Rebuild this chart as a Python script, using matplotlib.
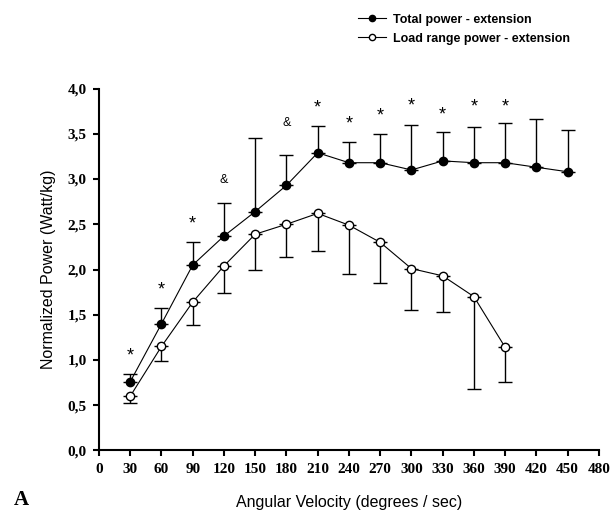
import matplotlib
matplotlib.use('Agg')
import matplotlib.pyplot as plt
from matplotlib import font_manager
from matplotlib.ticker import FuncFormatter

# angular velocity (deg/s)
vel_total = [30, 60, 90, 120, 150, 180, 210, 240, 270, 300, 330, 360, 390, 420, 450]
total = [0.76, 1.40, 2.05, 2.37, 2.64, 2.93, 3.29, 3.18, 3.18, 3.10, 3.20, 3.18, 3.18, 3.13, 3.08]
total_top = [0.85, 1.57, 2.30, 2.74, 3.45, 3.27, 3.59, 3.41, 3.50, 3.60, 3.52, 3.58, 3.62, 3.66, 3.54]

vel_load = [30, 60, 90, 120, 150, 180, 210, 240, 270, 300, 330, 360, 390]
load = [0.60, 1.15, 1.64, 2.04, 2.39, 2.50, 2.62, 2.49, 2.30, 2.01, 1.93, 1.70, 1.14]
load_bottom = [0.52, 0.99, 1.39, 1.74, 1.99, 2.14, 2.20, 1.95, 1.85, 1.55, 1.53, 0.68, 0.76]

# significance marks above the total curve
mark_x = [30, 60, 90, 120, 180, 210, 240, 270, 300, 330, 360, 390]
mark_y = [1.04, 1.77, 2.50, 2.99, 3.62, 3.78, 3.61, 3.70, 3.81, 3.71, 3.80, 3.80]
mark_txt = ['*', '*', '*', '&', '&', '*', '*', '*', '*', '*', '*', '*']

# narrow bold face for tick numbers if there is one
tick_font = 'Liberation Serif'
try:
    font_manager.findfont('Liberation Sans Narrow', fallback_to_default=False)
    tick_font = 'Liberation Sans Narrow'
except ValueError:
    pass

fig = plt.figure(figsize=(6.13, 5.11), dpi=100)
ax = fig.add_axes([0.1615, 0.1184, 0.8155, 0.7084])

up = [t - v for t, v in zip(total_top, total)]
down = [v - b for v, b in zip(load, load_bottom)]

ax.errorbar(vel_total, total, yerr=[[0] * len(up), up], fmt='none',
            ecolor='black', elinewidth=1.0, capsize=5, capthick=1.0)
ax.errorbar(vel_load, load, yerr=[down, [0] * len(down)], fmt='none',
            ecolor='black', elinewidth=1.0, capsize=5, capthick=1.0)
l1, = ax.plot(vel_total, total, color='black', lw=0.8, marker='o', ms=6,
              mfc='black', mec='black', zorder=3)
l2, = ax.plot(vel_load, load, color='black', lw=0.8, marker='o', ms=6,
              mfc='white', mec='black', mew=1.0, zorder=3)

for x, y, t in zip(mark_x, mark_y, mark_txt):
    ax.text(x, y, t, ha='center', va='center',
            fontsize=13 if t == '*' else 9, family='Liberation Sans')

ax.set_xlim(0, 480)
ax.set_ylim(0, 4.0)
ax.set_xticks(range(0, 481, 30))
ax.set_yticks([0, 0.5, 1.0, 1.5, 2.0, 2.5, 3.0, 3.5, 4.0])
ax.yaxis.set_major_formatter(FuncFormatter(lambda v, p: f'{v:.1f}'.replace('.', ',')))
ax.spines['top'].set_visible(False)
ax.spines['right'].set_visible(False)
ax.spines['left'].set_linewidth(1.5)
ax.spines['bottom'].set_linewidth(1.5)
ax.tick_params(direction='out', length=4, width=1.5, pad=5)
for lab in ax.get_xticklabels() + ax.get_yticklabels():
    lab.set_family(tick_font)
    lab.set_fontweight('bold')
    lab.set_fontsize(11)

ax.set_xlabel('Angular Velocity (degrees / sec)', family='Liberation Sans',
              fontsize=11.5, labelpad=14)
ax.set_ylabel('Normalized Power (Watt/kg)', family='Liberation Sans',
              fontsize=11.5, labelpad=8)

fig.legend([l1, l2], ['Total power - extension', 'Load range power - extension'],
           loc='upper left', bbox_to_anchor=(0.565, 0.995), frameon=False,
           prop={'family': 'Liberation Sans', 'weight': 'bold', 'size': 9},
           handlelength=2.3, handletextpad=0.5, labelspacing=0.55, markerscale=0.75)

fig.text(0.022, 0.012, 'A', family='Liberation Serif', fontweight='bold', fontsize=15)

fig.savefig('out.png', dpi=100)
